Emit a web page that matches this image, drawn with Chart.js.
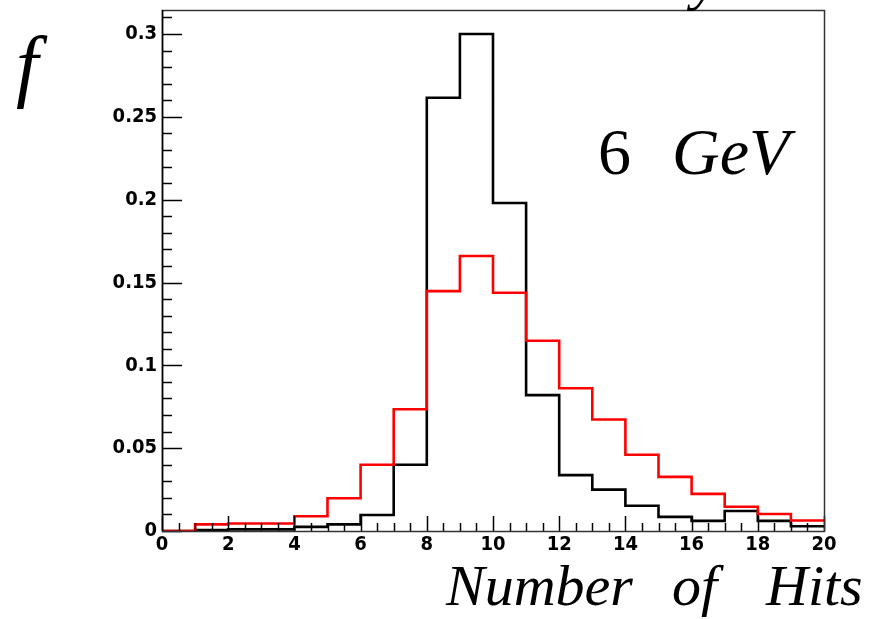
<!DOCTYPE html>
<html>
<head>
<meta charset="utf-8">
<script src="https://cdn.jsdelivr.net/npm/chart.js@4.4.1/dist/chart.umd.min.js"></script>
<style>
  html, body { margin: 0; padding: 0; background: #fff; }
  #wrap { position: relative; width: 871px; height: 619px; }
</style>
</head>
<body>
<div id="wrap"><canvas id="hits"></canvas></div>
<script>
// bin edges of the hit-count histogram (0..20, width 1)
const binEdges = [0, 1, 2, 3, 4, 5, 6, 7, 8, 9, 10, 11, 12, 13, 14, 15, 16, 17, 18, 19, 20];
// fraction per bin, black histogram
const blackFrac = [0, 0.0005, 0.001, 0.001, 0.0025, 0.004, 0.0097, 0.040, 0.2615, 0.300,
                   0.198, 0.082, 0.0337, 0.025, 0.0152, 0.0085, 0.0061, 0.0121, 0.0061, 0.0029];
// fraction per bin, red histogram
const redFrac = [0, 0.004, 0.0045, 0.0045, 0.0089, 0.0198, 0.040, 0.0735, 0.1448, 0.166,
                 0.1438, 0.1148, 0.0862, 0.0673, 0.046, 0.0327, 0.0224, 0.0146, 0.0103, 0.0063];
const xTicks = [0, 2, 4, 6, 8, 10, 12, 14, 16, 18, 20];
const yTicks = [0, 0.05, 0.1, 0.15, 0.2, 0.25, 0.3];

// step points: one per bin edge, last edge repeats last bin
function toSteps(vals) {
    const pts = vals.map((v, i) => ({ x: binEdges[i], y: v }));
    pts.push({ x: binEdges[binEdges.length - 1], y: vals[vals.length - 1] });
    return pts;
}

const tickFont = { family: '"DejaVu Sans Condensed", "Liberation Sans Narrow", Arial, sans-serif', size: 20, weight: 'bold' };

// ROOT style frame + inward ticks + the italic labels
const rootFrame = {
    id: 'rootFrame',
    afterDraw(chart) {
        const ctx = chart.ctx;
        const a = chart.chartArea;
        const xs = chart.scales.x, ys = chart.scales.y;
        ctx.save();
        ctx.strokeStyle = '#000';
        ctx.lineWidth = 1.5;
        // x ticks (major every 2, minor every 0.5)
        for (let v = 0; v <= 20.001; v += 0.5) {
            const px = Math.round(xs.getPixelForValue(v)) + 0.5;
            const len = (Math.abs(v / 2 - Math.round(v / 2)) < 1e-6) ? 15 : 8;
            ctx.beginPath(); ctx.moveTo(px, a.bottom); ctx.lineTo(px, a.bottom - len); ctx.stroke();
        }
        // y ticks (major every 0.05, minor every 0.01)
        for (let v = 0; v <= ys.max + 1e-6; v += 0.01) {
            const py = Math.round(ys.getPixelForValue(v)) + 0.5;
            const len = (Math.abs(v / 0.05 - Math.round(v / 0.05)) < 1e-6) ? 20 : 10;
            ctx.beginPath(); ctx.moveTo(a.left, py); ctx.lineTo(a.left + len, py); ctx.stroke();
        }
        // frame
        ctx.strokeStyle = '#333';
        ctx.strokeRect(a.left + 0.5, a.top + 0.5, a.right - a.left, a.bottom - a.top);
        ctx.strokeStyle = '#000';
        ctx.beginPath(); ctx.moveTo(a.left + 0.5, a.top); ctx.lineTo(a.left + 0.5, a.bottom); ctx.stroke();

        ctx.fillStyle = '#000';
        ctx.textBaseline = 'alphabetic';
        ctx.textAlign = 'left';
        ctx.font = 'italic 80px "Liberation Serif", "Times New Roman", serif';
        ctx.fillText('f', 16, 92);
        // bit of a clipped title above the frame
        ctx.font = 'italic 60px "Liberation Serif", serif';
        ctx.fillText('y', 692, -2);
        ctx.font = '66px "Liberation Serif", serif';
        ctx.fillText('6', 598, 174);
        ctx.font = 'italic 66px "Liberation Serif", serif';
        ctx.fillText('GeV', 672, 174);
        ctx.font = 'italic 58px "Liberation Serif", serif';
        ctx.fillText('Number', 446, 605);
        ctx.fillText('of', 672, 605);
        ctx.fillText('Hits', 766, 605);
        ctx.restore();
    }
};

new Chart(document.getElementById('hits'), {
    type: 'line',
    data: {
        datasets: [
            {
                label: 'black',
                data: toSteps(blackFrac),
                stepped: 'before',
                borderColor: '#000',
                borderWidth: 2.6,
                pointRadius: 0,
                fill: false,
                order: 2
            },
            {
                label: 'red',
                data: toSteps(redFrac),
                stepped: 'before',
                borderColor: '#ff0000',
                borderWidth: 2.6,
                pointRadius: 0,
                fill: false,
                order: 1
            }
        ]
    },
    options: {
        responsive: true,
        maintainAspectRatio: false,
        animation: false,
        layout: { padding: { top: 10, right: 47, left: 0, bottom: 0 } },
        plugins: { legend: { display: false }, tooltip: { enabled: false } },
        scales: {
            x: {
                type: 'linear',
                min: 0,
                max: 20,
                afterFit: s => { s.height = 88; s.paddingLeft = 0; s.paddingRight = 0; },
                afterBuildTicks: s => { s.ticks = xTicks.map(v => ({ value: v })); },
                grid: { display: false, drawTicks: false },
                border: { display: false },
                ticks: { font: tickFont, color: '#000', padding: 2, maxRotation: 0,
                         callback: v => String(v) }
            },
            y: {
                type: 'linear',
                min: 0,
                max: 0.3145,
                afterFit: s => { s.width = 162; s.paddingTop = 0; s.paddingBottom = 0; },
                afterBuildTicks: s => { s.ticks = yTicks.map(v => ({ value: v })); },
                grid: { display: false, drawTicks: false },
                border: { display: false },
                ticks: { font: tickFont, color: '#000', padding: 5,
                         callback: v => String(+v.toFixed(2)) }
            }
        }
    },
    plugins: [rootFrame]
});
</script>
</body>
</html>
